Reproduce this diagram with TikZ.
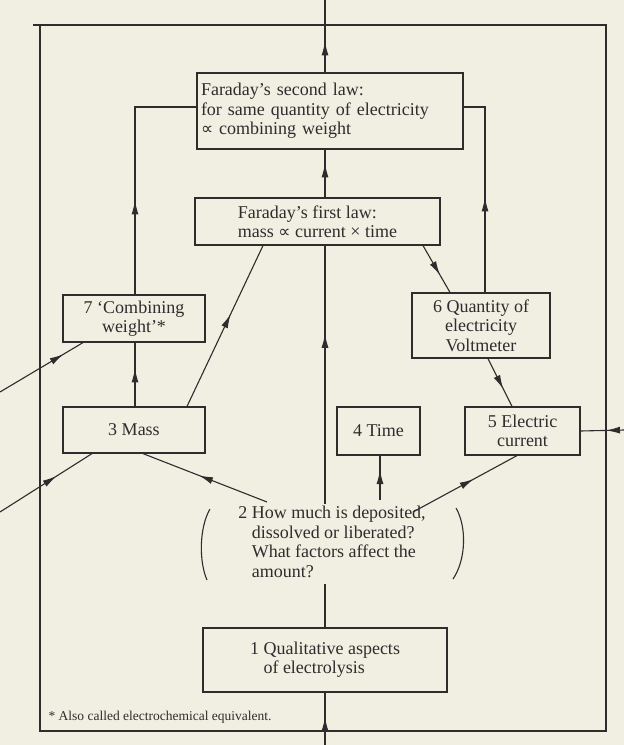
\documentclass[tikz,border=0pt]{standalone}
\usepackage{fontspec}
\setmainfont{Liberation Serif}
\newfontfamily\symfont{DejaVu Sans}
\usetikzlibrary{arrows.meta,decorations.markings,calc}
\definecolor{paper}{RGB}{241,238,226}
\definecolor{ink}{RGB}{45,45,45}
\newcommand{\propsym}{{\symfont\fontsize{17}{19}\selectfont ∝}}
\begin{document}
\begin{tikzpicture}[x=1pt,y=-1pt,
  box/.style={draw=ink, line width=1.2pt, rectangle, inner sep=0pt, text=ink,
    font=\fontsize{18}{19.5}\selectfont},
  plain/.style={inner sep=1pt, text=ink, font=\fontsize{18}{19.5}\selectfont},
  conn/.style={draw=ink, line width=1.1pt},
  arr/.style={postaction={decorate}, decoration={markings,
    mark=at position #1 with {\arrow{Latex[length=14pt,width=7pt]}}}}]
\fill[paper] (0,0) rectangle (624,745);
\useasboundingbox (0,0) rectangle (624,745);

% frame
\draw[conn] (33,25) -- (606,25) -- (606,731) -- (40,731) -- (40,25);

% nodes
\node[box, minimum width=266pt, minimum height=76pt, text width=258pt, align=left] (L2) at (330,111)
  {Faraday’s second law:\\for same quantity of electricity\\\propsym{} combining weight};
\node[box, minimum width=245pt, minimum height=47pt, align=left] (L1) at (317.5,221.5)
  {Faraday’s first law:\\mass \propsym{} current × time};
\node[box, minimum width=142pt, minimum height=47pt, align=center] (B7) at (134,318.5)
  {7 ‘Combining\\weight’*};
\node[box, minimum width=138pt, minimum height=65pt, align=center] (B6) at (481,325.5)
  {6 Quantity of\\electricity\\Voltmeter};
\node[box, minimum width=142pt, minimum height=46pt] (B3) at (134,430) {3 Mass};
\node[box, minimum width=83pt, minimum height=48pt] (B4) at (378.5,431) {4 Time};
\node[box, minimum width=115pt, minimum height=48pt, align=center] (B5) at (522.5,431)
  {5 Electric\\current};
\node[plain] (N2) at (332,544)
  {\begin{tabular}{@{}l@{ }l@{}}2&How much is deposited,\\&dissolved or liberated?\\&What factors affect the\\&amount?\end{tabular}};
\node[box, minimum width=244pt, minimum height=64pt] (B1) at (325,660)
  {\begin{tabular}{@{}l@{ }l@{}}1&Qualitative aspects\\&of electrolysis\end{tabular}};
\node[anchor=base west, text=ink, font=\fontsize{13.5}{15}\selectfont] (fn) at (45,720)
  {* Also called electrochemical equivalent.};

% coordinates
\coordinate (top) at (325,0);
\coordinate (bot) at (325,745);
\coordinate (lc) at (135,107);
\coordinate (rc) at (485,107);
\coordinate (inA) at (0,392);
\coordinate (inB) at (0,512);
\coordinate (inC) at (624,430);
\coordinate (n2a) at (267,502);
\coordinate (n2b) at (380,500);
\coordinate (n2c) at (413,512);

% central spine
\draw[conn, arr=28pt] (bot) -- (bot |- B1.south);
\draw[conn] (bot |- B1.north) -- (bot |- N2.south);
\draw[conn, arr=170pt] (bot |- N2.north) -- (bot |- L1.south);
\draw[conn, arr=34pt] (bot |- L1.north) -- (bot |- L2.south);
\draw[conn, arr=31pt] (bot |- L2.north) -- (top);

% sides to second law
\draw[conn, arr=94pt] (B7.north -| lc) -- (lc) -- (lc -| L2.west);
\draw[conn, arr=95pt] (B6.north -| rc) -- (rc) -- (rc -| L2.east);

% middle layer
\draw[conn, arr=38pt] (B3.north -| lc) -- (B7.south -| lc);
\draw[conn, arr=102pt] ([xshift=53pt]B3.north) -- ([xshift=-54.5pt]L1.south);
\draw[conn, arr=34pt] ([xshift=105.5pt]L1.south) -- ([xshift=-31pt]B6.north);
\draw[conn, arr=34pt] ([xshift=7pt]B6.south) -- ([xshift=-10.5pt]B5.north);

% inputs
\draw[conn, arr=74pt] (inA) -- ([xshift=-51pt]B7.south);
\draw[conn, arr=67pt] (inB) -- ([xshift=-42pt]B3.south);
\draw[conn, arr=18pt] (inC) -- (B5.east);
\draw[conn, arr=73pt] (n2a) -- ([xshift=9pt]B3.south);
\draw[conn, arr=30pt] (n2b) -- (B4.south -| n2b);
\draw[conn, arr=69pt] (n2c) -- ([xshift=-5.5pt]B5.south);

% brackets round question 2
\draw[conn] (210,509) .. controls (199,528) and (199,562) .. (207,580);
\draw[conn] (456,508) .. controls (467,527) and (466,560) .. (453,579);
\end{tikzpicture}
\end{document}
